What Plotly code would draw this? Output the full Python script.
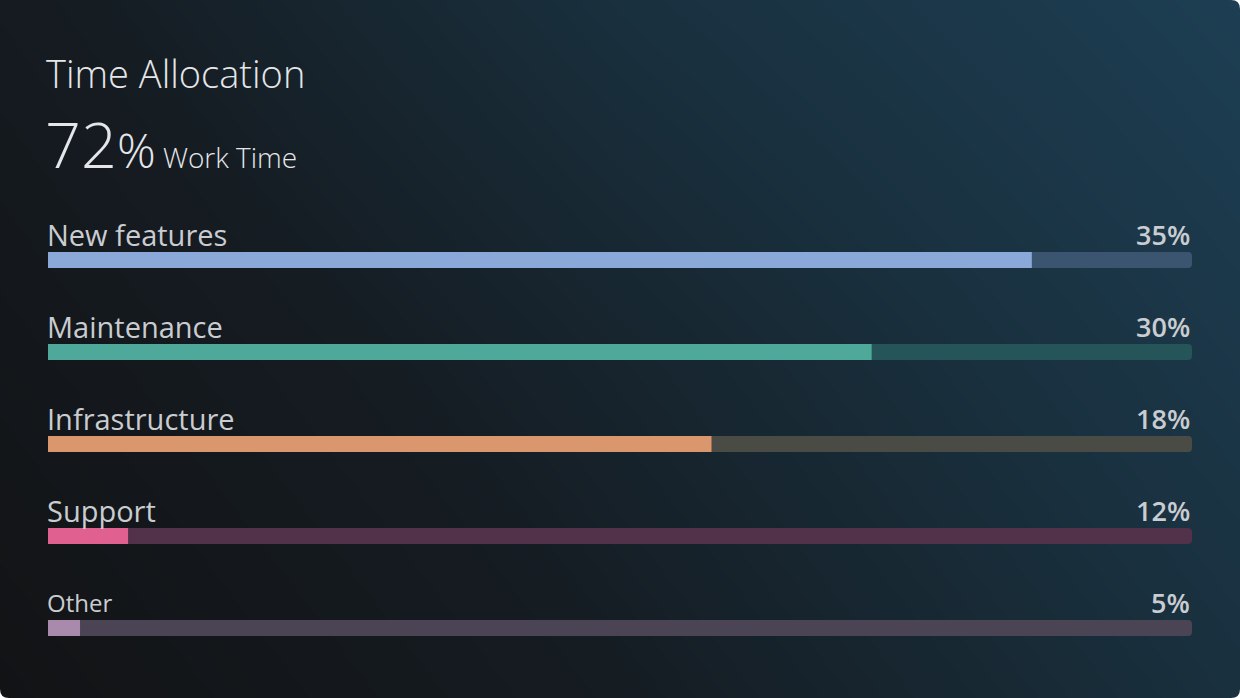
import plotly.graph_objects as go

W, H = 1240, 698

# data read from the card
categories = ["New features", "Maintenance", "Infrastructure", "Support", "Other"]
share_labels = ["35%", "30%", "18%", "12%", "5%"]
fill_values = [86, 72, 58, 7, 2.8]
work_time = "72"

# styling
fill_colors = ["#8aa8d8", "#4fa99a", "#da966c", "#e0608f", "#a98aad"]
track_colors = ["#3b5570", "#255558", "#4b4b46", "#52324a", "#4a4454"]
label_sizes = [29, 29, 29, 29, 24]
font_label = "Open Sans"
font_num = "Open Sans"

# pixel geometry of the rows: row i centre at 260 + 92*i
row_gap = 92.0
y_top = (0 - 260) / row_gap
y_bot = (H - 260) / row_gap
bar_w = 16 / row_gap
x0, x1 = 48 / W, 1192 / W

fig = go.Figure()

# background gradient (dark bottom-left to teal top-right)
fig.add_trace(go.Heatmap(
    z=[[0.0, 0.35, 0.7], [0.15, 0.5, 0.85], [0.3, 0.7, 1.0]],
    x=[0, 0.5, 1], y=[0, 0.5, 1],
    zsmooth="best", showscale=False, hoverinfo="skip",
    colorscale=[[0, "#121315"], [0.35, "#151c22"], [0.7, "#19303e"], [1, "#1d3e53"]],
    xaxis="x", yaxis="y",
))

rows = list(range(len(categories)))

fig.add_trace(go.Bar(
    y=rows, x=[100] * len(rows), orientation="h", width=bar_w,
    marker=dict(color=track_colors, line=dict(width=0)),
    hoverinfo="skip", xaxis="x2", yaxis="y2",
))
fig.add_trace(go.Bar(
    y=rows, x=fill_values, orientation="h", width=bar_w,
    marker=dict(color=fill_colors, line=dict(width=0)),
    hoverinfo="skip", xaxis="x2", yaxis="y2",
))

annotations = []
for i, (cat, lab) in enumerate(zip(categories, share_labels)):
    annotations.append(dict(
        x=0, y=i - 0.28, xref="x2", yref="y2", text=cat, showarrow=False,
        xanchor="left", yanchor="middle", xshift=-3,
        font=dict(family=font_label, size=label_sizes[i], color="#c9ccd0", weight=400),
    ))
    annotations.append(dict(
        x=100, y=i - 0.28, xref="x2", yref="y2", text=lab, showarrow=False,
        xanchor="right", yanchor="middle", xshift=0,
        font=dict(family=font_num, size=27, color="#c9ccd0", weight=600),
    ))

annotations.append(dict(
    x=x0, y=1 - 73 / H, xref="paper", yref="paper", text="Time Allocation",
    showarrow=False, xanchor="left", yanchor="middle", xshift=-4,
    font=dict(family=font_label, size=38, color="#e4e6e9", weight=300),
))
annotations.append(dict(
    x=x0, y=1 - 143 / H, xref="paper", yref="paper",
    text=f"<span style='font-size:63px'>{work_time}</span>"
         f"<span style='font-size:48px'>%</span> Work Time",
    showarrow=False, xanchor="left", yanchor="middle", xshift=-5,
    font=dict(family=font_label, size=28, color="#e4e6e9", weight=300),
))

# rounded card corners
r_x, r_y = 9 / W, 9 / H
corners = [
    f"M 1,1 L {1 - r_x},1 Q 1,1 1,{1 - r_y} Z",
    f"M 1,0 L {1 - r_x},0 Q 1,0 1,{r_y} Z",
    f"M 0,0 L {r_x},0 Q 0,0 0,{r_y} Z",
]
shapes = [dict(type="path", path=p, xref="paper", yref="paper",
               fillcolor="white", line=dict(width=0), layer="above") for p in corners]

fig.update_layout(
    width=W, height=H, margin=dict(l=0, r=0, t=0, b=0),
    paper_bgcolor="white", plot_bgcolor="rgba(0,0,0,0)",
    showlegend=False, barmode="overlay", barcornerradius=4,
    xaxis=dict(domain=[0, 1], range=[0, 1], visible=False, fixedrange=True),
    yaxis=dict(domain=[0, 1], range=[0, 1], visible=False, fixedrange=True),
    xaxis2=dict(domain=[x0, x1], range=[0, 100], visible=False, anchor="y2", fixedrange=True),
    yaxis2=dict(domain=[0, 1], range=[y_bot, y_top], visible=False, anchor="x2", fixedrange=True),
    annotations=annotations, shapes=shapes,
)

fig.write_html("out.html", config={"displayModeBar": False},
               post_script="document.body.style.margin='0';")
